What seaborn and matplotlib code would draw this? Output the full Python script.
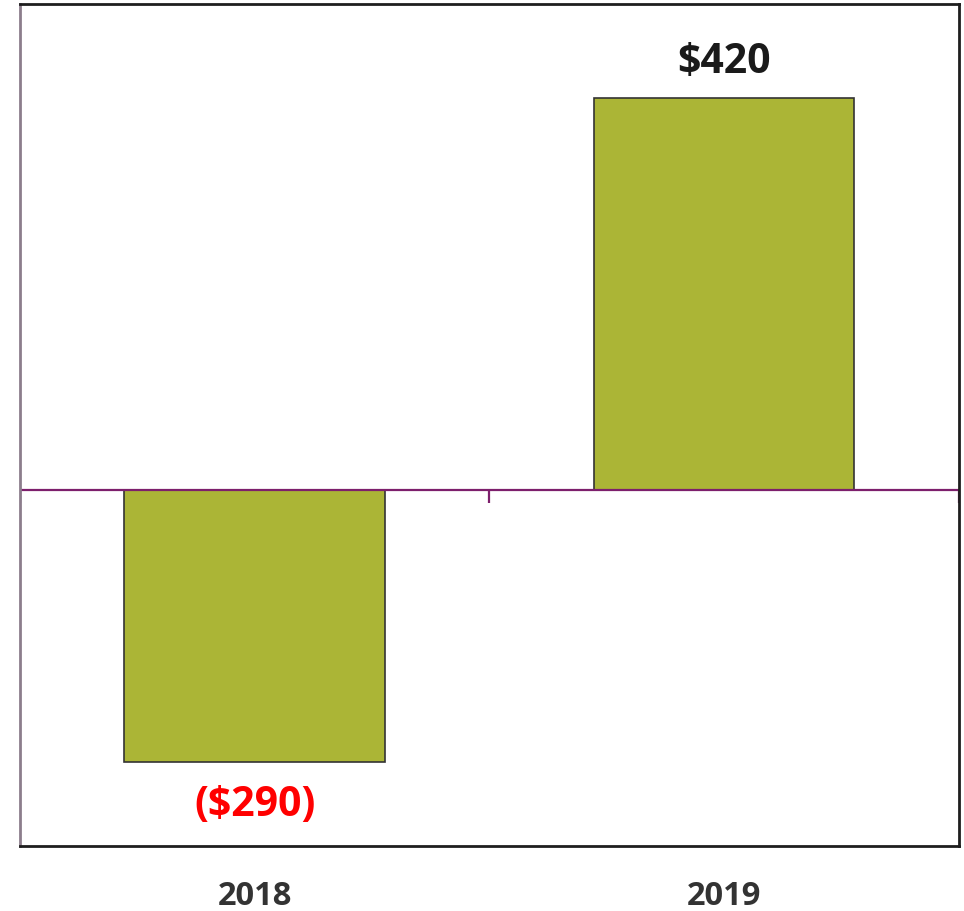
import numpy as np
import pandas as pd
import seaborn as sns
import matplotlib.pyplot as plt

# 数据
years = ["2018", "2019"]
values = [-290, 420]
value_labels = ["($290)", "$420"]
label_colors = ["#ff0000", "#1a1a1a"]

bar_color = "#abb536"
axis_purple = "#7d1f6c"

sns.set_theme(style="white")
plt.rcParams['font.family'] = ['Open Sans', 'DejaVu Sans']

df = pd.DataFrame({"year": years, "value": values})

fig = plt.figure(figsize=(9.64, 9.12), dpi=100)
ax = fig.add_axes([0.0207, 0.0713, 0.974, 0.9232])

sns.barplot(data=df, x="year", y="value", color=bar_color, saturation=1,
            width=0.555, edgecolor="#333333", linewidth=1.2, ax=ax)

ax.set_ylim(-380, 520)
ax.set_xlim(-0.5, len(years) - 0.5)

# 零线和类别分隔刻度
ax.axhline(0, color=axis_purple, linewidth=1.6, zorder=1)
bounds = np.arange(len(years) + 1) - 0.5
ax.vlines(bounds, -13, 0, color=axis_purple, linewidth=1.6, zorder=1)

# 数值标签
for i, (v, lab, c) in enumerate(zip(values, value_labels, label_colors)):
    if v >= 0:
        ax.text(i, v + 17, lab, ha="center", va="bottom", fontsize=29.5,
                fontweight="bold", color=c)
    else:
        ax.text(i, v - 24, lab, ha="center", va="top", fontsize=29.5,
                fontweight="bold", color=c)

ax.set_yticks([])
ax.set_xlabel("")
ax.set_ylabel("")
ax.tick_params(axis="x", length=0, pad=24)
for t in ax.get_xticklabels():
    t.set_fontsize(23.5)
    t.set_fontweight("bold")
    t.set_color("#333333")

for side in ["top", "right", "bottom"]:
    ax.spines[side].set_color("#1e1e1e")
    ax.spines[side].set_linewidth(2)
ax.spines["left"].set_color("#8c7d8c")
ax.spines["left"].set_linewidth(2)

fig.savefig("out.png", dpi=100)
